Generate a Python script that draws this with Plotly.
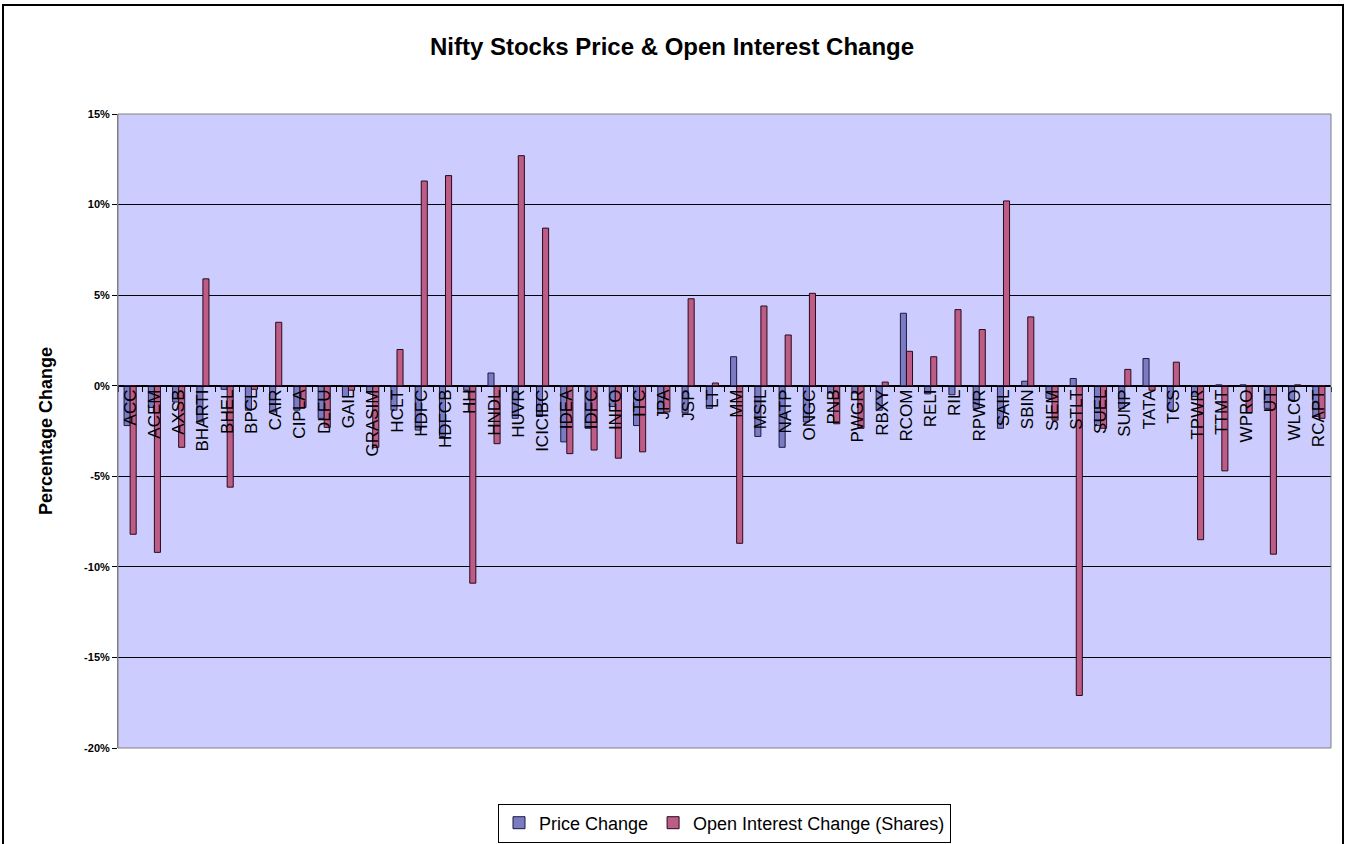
import plotly.graph_objects as go

categories = ["ACC", "ACEM", "AXSB", "BHARTI", "BHEL", "BPCL", "CAIR", "CIPLA", "DLFU", "GAIL",
              "GRASIM", "HCLT", "HDFC", "HDFCB", "HH", "HNDL", "HUVR", "ICICIBC", "IDEA", "IDFC",
              "INFO", "ITC", "JPA", "JSP", "LT", "MM", "MSIL", "NATP", "ONGC", "PNB",
              "PWGR", "RBXY", "RCOM", "RELI", "RIL", "RPWR", "SAIL", "SBIN", "SIEM", "STLT",
              "SUEL", "SUNP", "TATA", "TCS", "TPWR", "TTMT", "WPRO", "UT", "WLCO", "RCAPT"]

price_change = [-2.2, -1.2, -0.9, -2.0, -0.2, -1.35, -1.45, -1.35, -1.8, -0.6,
                -0.35, -1.35, -2.45, -2.8, -0.25, 0.7, -1.8, -1.7, -3.1, -2.35,
                -1.15, -2.2, -1.5, -1.5, -1.25, 1.6, -2.8, -3.4, -2.0, -0.4,
                -0.4, -1.35, 4.0, -0.45, -0.5, -1.25, -2.35, 0.25, -0.7, 0.4,
                -2.2, -1.25, 1.5, -1.35, -0.6, 0.05, 0.05, -1.25, -0.8, -1.7]

oi_change = [-8.2, -9.2, -3.4, 5.9, -5.6, -0.2, 3.5, -1.2, -2.3, -0.25,
             -3.4, 2.0, 11.3, 11.6, -10.9, -3.2, 12.7, 8.7, -3.75, -3.55,
             -4.0, -3.65, -1.45, 4.8, 0.15, -8.7, 4.4, 2.8, 5.1, -2.1,
             -2.35, 0.2, 1.9, 1.6, 4.2, 3.1, 10.2, 3.8, -1.9, -17.1,
             -2.35, 0.9, -0.25, 1.3, -8.5, -4.7, -1.5, -9.3, 0.05, -1.8]

y_ticks = [-20, -15, -10, -5, 0, 5, 10, 15]
y_ticktext = [f"{v}%" for v in y_ticks]

FONT = "Liberation Sans, Arial, sans-serif"

fig = go.Figure()
fig.add_trace(go.Bar(
    x=categories, y=price_change, name="Price Change",
    marker=dict(color="#7b7bc4", line=dict(color="#1a1a40", width=1)),
))
fig.add_trace(go.Bar(
    x=categories, y=oi_change, name="Open Interest Change (Shares)",
    marker=dict(color="#bd5c86", line=dict(color="#2a0a18", width=1)),
))

L, R, T, B = 118, 23, 114, 96
W, H = 1354, 844
pw, ph = W - L - R, H - T - B


def px_x(x):
    return (x - L) / pw


def px_y(y):
    return (H - B - y) / ph


fig.update_layout(
    width=W, height=H,
    margin=dict(l=L, r=R, t=T, b=B, autoexpand=False),
    paper_bgcolor="white",
    plot_bgcolor="#ccccff",
    barmode="group", bargap=0.5, bargroupgap=0.0,
    font=dict(family=FONT, color="black"),
    title=dict(text="Nifty Stocks Price & Open Interest Change",
               x=672 / W, xref="container", xanchor="center",
               y=1 - 47 / H, yref="container", yanchor="middle",
               font=dict(size=24, family=FONT, color="black", weight="bold")),
    showlegend=True,
    legend=dict(orientation="h", x=0.5, xanchor="center",
                y=px_y(823), yanchor="middle",
                bgcolor="white", bordercolor="black", borderwidth=1,
                font=dict(size=18, family=FONT, color="black"),
                itemwidth=30, tracegroupgap=0),
    hovermode=False,
    xaxis=dict(
        type="category",
        anchor="free", position=20 / 35,
        showline=True, linecolor="black", linewidth=1,
        ticks="outside", ticklen=5, tickcolor="black", tickson="boundaries",
        ticklabelstandoff=-4,
        tickangle=-90, tickfont=dict(size=17, family=FONT, color="black"),
        showgrid=False, automargin=False, fixedrange=True,
    ),
    yaxis=dict(
        range=[-20, 15], tickvals=y_ticks, ticktext=y_ticktext,
        showgrid=True, gridcolor="black", gridwidth=1,
        zeroline=False,
        showline=True, linecolor="#808080", linewidth=1,
        ticks="outside", ticklen=5, tickcolor="black",
        tickfont=dict(size=11, family=FONT, color="black", weight="bold"),
        title=dict(text="Percentage Change", standoff=26,
                   font=dict(size=18, family=FONT, color="black", weight="bold")),
        automargin=False, fixedrange=True,
    ),
    shapes=[
        dict(type="rect", xref="paper", yref="paper", x0=0, x1=1, y0=0, y1=1,
             line=dict(color="#808080", width=1), layer="above"),
        dict(type="rect", xref="paper", yref="paper",
             x0=px_x(3), x1=px_x(1343), y0=px_y(860), y1=px_y(5),
             line=dict(color="black", width=2), layer="above"),
    ],
)

fig.write_html("out.html", config={"displayModeBar": False},
               post_script="document.body.style.margin='0px';")
